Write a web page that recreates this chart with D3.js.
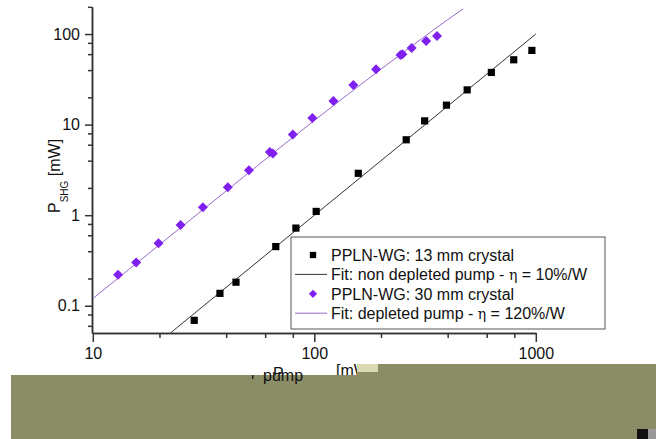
<!DOCTYPE html>
<html>
<head>
<meta charset="utf-8">
<script src="https://cdn.jsdelivr.net/npm/d3@7"></script>
<style>
body { margin: 0; background: #fff; }
text { font-family: "Liberation Sans", Arial, sans-serif; fill: #111; }
</style>
</head>
<body>
<script>
var width = 656, height = 439;

// 13 mm crystal (black squares)
var pumpA = [28.7, 37.5, 44.3, 67, 82.6, 102, 158, 260, 315, 395, 490, 630, 795, 960];
var shgA = [0.069, 0.137, 0.182, 0.45, 0.72, 1.1, 2.9, 6.8, 11, 16.4, 24.2, 37.7, 52, 66];
// 30 mm crystal (purple diamonds)
var pumpB = [13, 15.7, 19.8, 24.9, 31.4, 40.7, 50.7, 63, 65, 80, 98, 122, 150, 190, 245, 250, 275, 320, 358];
var shgB = [0.22, 0.3, 0.49, 0.78, 1.22, 2.04, 3.14, 5.0, 4.8, 7.8, 11.8, 18.2, 27.3, 41, 58.6, 60, 70, 84, 95];
// fit curves
var fitPumpA = [22.4, 1000];
var fitShgA = [0.05, 100];
var fitPumpB = [10, 30, 100, 200, 300, 400, 470];
var fitShgB = [0.12, 1.05, 11.1, 41, 86, 144, 190];

var xMajor = [10, 100, 1000];
var xMinor = [20, 40, 60, 80, 200, 400, 600, 800];
var yMajor = [0.1, 1, 10, 100];
var yMinor = [0.06, 0.08, 0.2, 0.4, 0.6, 0.8, 2, 4, 6, 8, 20, 40, 60, 80, 200];

var legendLabels = [
	"PPLN-WG: 13 mm crystal",
	"Fit: non depleted pump - |η| = 10%/W",
	"PPLN-WG: 30 mm crystal",
	"Fit: depleted pump - |η| = 120%/W"
];

var x = d3.scaleLog().domain([10, 1000]).range([92.8, 535.8]),
	y = d3.scaleLog().domain([0.05, 200]).range([333, 6.8]);

var svg = d3.select("body").append("svg")
	.attr("width", width)
	.attr("height", height);

svg.append("defs").append("clipPath").attr("id", "clip")
	.append("rect")
	.attr("x", x.range()[0]).attr("y", y.range()[1])
	.attr("width", x.range()[1] - x.range()[0] + 2)
	.attr("height", y.range()[0] - y.range()[1]);

// axes
function styleAxis(g) {
	g.selectAll("path, line").attr("stroke", "#333").attr("stroke-width", 1.5);
	g.selectAll("text").attr("font-size", 16).attr("fill", "#111")
		.style("font-family", "'Liberation Sans', Arial, sans-serif");
}

svg.append("g")
	.attr("transform", "translate(0," + y.range()[0] + ")")
	.call(d3.axisBottom(x).tickValues(xMinor).tickSize(5).tickSizeOuter(0).tickFormat(""))
	.call(styleAxis);
svg.append("g")
	.attr("transform", "translate(0," + y.range()[0] + ")")
	.call(d3.axisBottom(x).tickValues(xMajor).tickSize(9).tickSizeOuter(0).tickPadding(6).tickFormat(d3.format("d")))
	.call(styleAxis);

svg.append("g")
	.attr("transform", "translate(" + 92 + ",0)")
	.call(d3.axisLeft(y).tickValues(yMinor).tickSize(4).tickSizeOuter(0).tickFormat(""))
	.call(styleAxis);
svg.append("g")
	.attr("transform", "translate(" + 92 + ",0)")
	.call(d3.axisLeft(y).tickValues(yMajor).tickSize(7).tickSizeOuter(0).tickPadding(5).tickFormat(function (d) { return d < 1 ? d3.format(".1f")(d) : d3.format("d")(d); }))
	.call(styleAxis);

// fit lines
var line = d3.line()
	.x(function (d) { return x(d[0]); })
	.y(function (d) { return y(d[1]); })
	.curve(d3.curveMonotoneX);

var plot = svg.append("g").attr("clip-path", "url(#clip)");

plot.append("path")
	.datum(d3.zip(fitPumpA, fitShgA))
	.attr("d", line)
	.attr("fill", "none")
	.attr("stroke", "#333")
	.attr("stroke-width", 1);

plot.append("path")
	.datum(d3.zip(fitPumpB, fitShgB))
	.attr("d", line)
	.attr("fill", "none")
	.attr("stroke", "#9a68cc")
	.attr("stroke-width", 1);

// markers
var sq = d3.symbol().type(d3.symbolSquare).size(52);
var dia = d3.symbol().type(d3.symbolSquare).size(50);

svg.selectAll(".ptA")
	.data(d3.zip(pumpA, shgA))
	.enter().append("path")
	.attr("class", "ptA")
	.attr("d", sq)
	.attr("transform", function (d) { return "translate(" + x(d[0]) + "," + y(d[1]) + ")"; })
	.attr("fill", "#000");

svg.selectAll(".ptB")
	.data(d3.zip(pumpB, shgB))
	.enter().append("path")
	.attr("class", "ptB")
	.attr("d", dia)
	.attr("transform", function (d) { return "translate(" + x(d[0]) + "," + y(d[1]) + ") rotate(45)"; })
	.attr("fill", "#7f1ff0");

// legend
var lg = svg.append("g").attr("transform", "translate(291,237)");
lg.append("rect")
	.attr("width", 314).attr("height", 92)
	.attr("fill", "#fff").attr("stroke", "#555").attr("stroke-width", 1);

var rows = lg.selectAll(".lrow")
	.data(legendLabels)
	.enter().append("g")
	.attr("class", "lrow")
	.attr("transform", function (d, i) { return "translate(0," + (18 + i * 19.4) + ")"; });

rows.each(function (d, i) {
	var g = d3.select(this);
	if (i === 0) g.append("path").attr("d", d3.symbol().type(d3.symbolSquare).size(40)).attr("transform", "translate(22,0)").attr("fill", "#000");
	if (i === 2) g.append("path").attr("d", d3.symbol().type(d3.symbolSquare).size(34)).attr("transform", "translate(22,0) rotate(45)").attr("fill", "#7f1ff0");
	if (i === 1 || i === 3) g.append("line").attr("x1", 4).attr("x2", 36).attr("stroke", i === 1 ? "#333" : "#9a68cc").attr("stroke-width", 1);
	var t = g.append("text").attr("x", 40).attr("dy", "0.36em").attr("font-size", 16);
	d.split("|").forEach(function (part, k) {
		var ts = t.append("tspan").text(part);
		if (k === 1) ts.style("font-family", "'DejaVu Serif', serif").attr("font-size", 14);
	});
});

// y title
var yt = svg.append("text")
	.attr("transform", "translate(60,213) rotate(-90)")
	.attr("font-size", 16);
yt.append("tspan").text("P");
yt.append("tspan").attr("font-size", 10).attr("dy", 8).text("SHG");
yt.append("tspan").attr("dy", -8).text(" [mW]");

// x title (partly covered by the block below)
svg.append("text").attr("x", 273).attr("y", 378.5).attr("font-size", 16).text("P");
svg.append("text").attr("x", 336).attr("y", 376).attr("font-size", 16).text("[mW]");

svg.append("rect").attr("x", 11).attr("y", 375).attr("width", width - 11).attr("height", height - 375).attr("fill", "#8a8d66");
svg.append("rect").attr("x", 357).attr("y", 364).attr("width", width - 357).attr("height", 11).attr("fill", "#8a8d66");
svg.append("rect").attr("x", 357).attr("y", 364).attr("width", 21).attr("height", 8).attr("fill", "#eeeec4").attr("opacity", 0.8);
svg.append("text").attr("x", 263).attr("y", 381).attr("font-size", 16).text("pump");
svg.append("rect").attr("x", 252).attr("y", 375).attr("width", 1.5).attr("height", 4).attr("fill", "#222");

svg.append("rect").attr("x", 637).attr("y", 429).attr("width", 11).attr("height", 10).attr("fill", "#111");
svg.append("rect").attr("x", 648).attr("y", 429).attr("width", 8).attr("height", 10).attr("fill", "#999");
</script>
</body>
</html>
